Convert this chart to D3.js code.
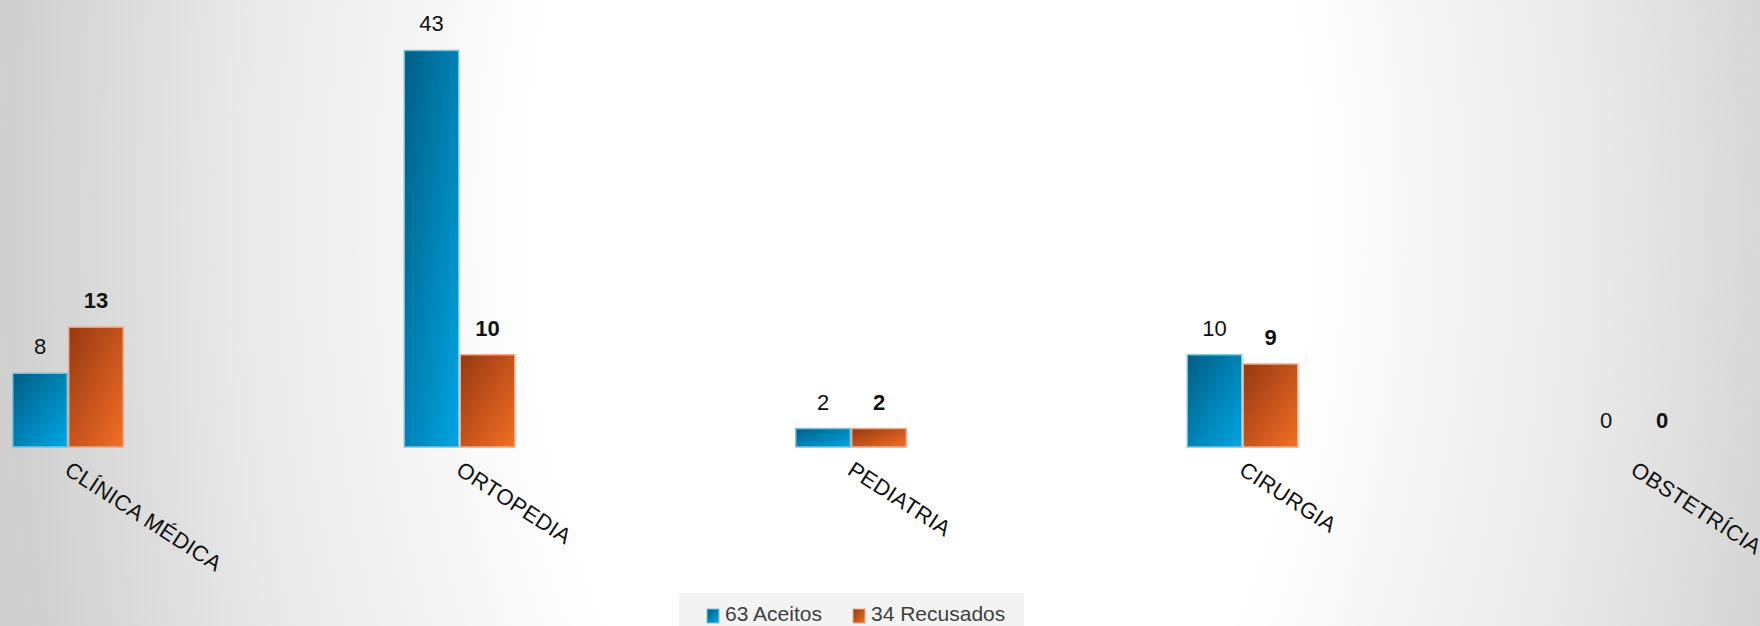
<!DOCTYPE html>
<html>
  <head>
    <meta http-equiv="Content-Type" content="text/html;charset=utf-8">
    <title>Aceitos x Recusados</title>
    <script src="https://d3js.org/d3.v7.min.js"></script>
    <style>
      html, body {
        margin: 0;
        padding: 0;
        width: 100%;
        height: 100%;
        overflow: hidden;
      }
      text {
        font-family: "Liberation Sans", Arial, sans-serif;
      }
    </style>
  </head>
  <body>
  <script type="text/javascript">

var categories = ["CLÍNICA MÉDICA", "ORTOPEDIA", "PEDIATRIA", "CIRURGIA", "OBSTETRÍCIA"];
var seriesNames = ["Aceitos", "Recusados"];
var aceitos = [8, 43, 2, 10, 0];
var recusados = [13, 10, 2, 9, 0];
var legendLabels = ["63 Aceitos", "34 Recusados"];

var W = 1760, H = 626;

var svg = d3.select("body").append("svg")
    .attr("width", W)
    .attr("height", H);

var defs = svg.append("defs");

// background: white glow in the middle, grey towards the sides
var bg = defs.append("radialGradient")
    .attr("id", "bg")
    .attr("gradientUnits", "userSpaceOnUse")
    .attr("cx", 920).attr("cy", 220)
    .attr("r", 920)
    .attr("gradientTransform", "translate(920 220) scale(1 1.7) translate(-920 -220)");
bg.append("stop").attr("offset", "0.42").attr("stop-color", "#ffffff");
bg.append("stop").attr("offset", "0.75").attr("stop-color", "#e8e8e8");
bg.append("stop").attr("offset", "1").attr("stop-color", "#cfcfcf");

var gBlue = defs.append("linearGradient").attr("id", "gBlue")
    .attr("x1", 0).attr("y1", 0).attr("x2", 1).attr("y2", 1);
gBlue.append("stop").attr("offset", 0).attr("stop-color", "#005e85");
gBlue.append("stop").attr("offset", 1).attr("stop-color", "#00a5e2");

var gOrange = defs.append("linearGradient").attr("id", "gOrange")
    .attr("x1", 0).attr("y1", 0).attr("x2", 1).attr("y2", 1);
gOrange.append("stop").attr("offset", 0).attr("stop-color", "#963812");
gOrange.append("stop").attr("offset", 1).attr("stop-color", "#f36e25");

svg.append("rect")
    .attr("width", W).attr("height", H)
    .attr("fill", "url(#bg)");

var x0 = d3.scalePoint()
    .domain(categories)
    .range([68, 1634]);

var x1 = d3.scaleBand()
    .domain(seriesNames)
    .range([-56, 56])
    .padding(0);

var y = d3.scaleLinear()
    .domain([0, 45])
    .range([447, 32]);

var fills = {Aceitos: "url(#gBlue)", Recusados: "url(#gOrange)"};
var strokes = {Aceitos: "#7cc3de", Recusados: "#eeab88"};

var data = categories.map(function(c, i) {
  return {cat: c, values: [
    {name: "Aceitos", v: aceitos[i]},
    {name: "Recusados", v: recusados[i]}
  ]};
});

var groups = svg.selectAll("g.cat")
    .data(data)
  .enter().append("g")
    .attr("class", "cat")
    .attr("transform", function(d) { return "translate(" + x0(d.cat) + ",0)"; });

groups.selectAll("rect")
    .data(function(d) { return d.values.filter(function(e) { return e.v > 0; }); })
  .enter().append("rect")
    .attr("x", function(d) { return x1(d.name) + 0.75; })
    .attr("y", function(d) { return y(d.v); })
    .attr("width", x1.bandwidth() - 1.5)
    .attr("height", function(d) { return y(0) - y(d.v); })
    .attr("fill", function(d) { return fills[d.name]; })
    .attr("stroke", function(d) { return strokes[d.name]; })
    .attr("stroke-width", 1.5);

groups.selectAll("text.val")
    .data(function(d) { return d.values; })
  .enter().append("text")
    .attr("class", "val")
    .attr("x", function(d) { return x1(d.name) + x1.bandwidth() / 2; })
    .attr("y", function(d) { return y(d.v) - 19; })
    .attr("text-anchor", "middle")
    .style("font-size", "22px")
    .style("font-weight", function(d) { return d.name === "Recusados" ? "bold" : "normal"; })
    .attr("fill", "#111")
    .text(function(d) { return d.v; });

// category labels, tilted
groups.append("text")
    .attr("transform", "translate(4,460) rotate(33)")
    .attr("dominant-baseline", "hanging")
    .style("font-size", "22px")
    .style("letter-spacing", "0.3px")
    .attr("fill", "#111")
    .text(function(d) { return d.cat; });

// legend
var legend = svg.append("g");
legend.append("rect")
    .attr("x", 679).attr("y", 593)
    .attr("width", 345).attr("height", 40)
    .attr("fill", "#f3f3f3");

var lx = [707, 853];
legendLabels.forEach(function(l, i) {
  legend.append("rect")
      .attr("x", lx[i]).attr("y", 609)
      .attr("width", 12).attr("height", 14)
      .attr("fill", fills[seriesNames[i]])
      .attr("stroke", strokes[seriesNames[i]])
      .attr("stroke-width", 1);
  legend.append("text")
      .attr("x", lx[i] + 18).attr("y", 621)
      .style("font-size", "21px")
      .attr("fill", "#404040")
      .text(l);
});

  </script>
  </body>
</html>
